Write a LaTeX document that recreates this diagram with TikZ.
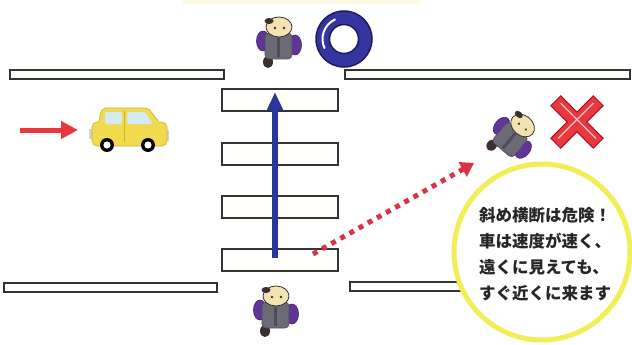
\documentclass[tikz,border=0pt]{standalone}
\usepackage{fontspec}
\newfontfamily\jpfont{Noto Sans CJK JP}
\usetikzlibrary{arrows.meta}

\definecolor{edgegray}{HTML}{333333}
\definecolor{barfill}{HTML}{FFFFFC}
\definecolor{paleyellow}{HTML}{FCF9E2}
\definecolor{walkblue}{HTML}{27389A}
\definecolor{warnred}{HTML}{E8383D}
\definecolor{dotred}{HTML}{DC3246}
\definecolor{caryellow}{HTML}{F2DA4E}
\definecolor{caredge}{HTML}{D2B02C}
\definecolor{glass}{HTML}{D4EAF0}
\definecolor{ringblue}{HTML}{3535A2}
\definecolor{ringdark}{HTML}{1C1C5C}
\definecolor{xdark}{HTML}{A8142A}
\definecolor{xpink}{HTML}{F7C4C8}
\definecolor{bubble}{HTML}{F2EE55}
\definecolor{armpurple}{HTML}{62349A}
\definecolor{armdark}{HTML}{40226E}
\definecolor{coat}{HTML}{6C6A76}
\definecolor{coatdark}{HTML}{4E4C56}
\definecolor{skin}{HTML}{F3E3B2}
\definecolor{hair}{HTML}{3A3030}
\definecolor{textdark}{HTML}{262626}

\tikzset{
  roadline/.style={draw=edgegray, fill=barfill, line width=1.3pt},
  stripe/.style={draw=edgegray, fill=barfill, line width=1.3pt},
  walkpath/.style={walkblue, line width=5.5pt, -{Triangle[length=18pt,width=15pt]}},
  carpath/.style={warnred, line width=5pt, -{Triangle[length=17pt,width=17pt]}},
  diagpath/.style={dotred, line width=5pt, dash pattern=on 5pt off 5.5pt,
    -{Triangle[length=13pt,width=16pt]}},
  walker/.pic={
    % feet
    \fill[hair] (-11,20) ellipse[x radius=5pt, y radius=6pt];
    % arms
    \filldraw[fill=armpurple, draw=armdark, line width=0.6pt]
      (-16,-1) ellipse[x radius=6.5pt, y radius=10pt];
    \filldraw[fill=armpurple, draw=armdark, line width=0.6pt]
      (16,3) ellipse[x radius=6.5pt, y radius=10pt];
    % coat seen from above
    \filldraw[fill=coat, draw=coatdark, line width=0.6pt, rounded corners=4pt]
      (-14,-9) rectangle (13,17);
    \fill[coatdark] (-2,-4) rectangle (1,15);
    % head with cap
    \filldraw[fill=skin, draw=hair, line width=0.8pt]
      (0,-15) ellipse[x radius=13pt, y radius=10pt];
    \fill[hair] (-10,-21) ellipse[x radius=4.5pt, y radius=3pt];
    \fill[hair] (-4,-14) circle[radius=1.3pt] (5,-14) circle[radius=1.3pt];
  }
}

\begin{document}
\begin{tikzpicture}[x=1pt, y=-1pt]
\useasboundingbox (0,0) rectangle (632,345);
\fill[white] (0,0) rectangle (632,345);
\fill[paleyellow] (183,0) rectangle (420,4);

% kerb lines of the road
\draw[roadline] (10,70) rectangle (224,79);
\draw[roadline] (345,70) rectangle (630,79);
\draw[roadline] (4,283) rectangle (217,292);
\draw[roadline] (350,282) rectangle (480,291);

% zebra crossing
\foreach \y [count=\i] in {89,143,196,249}
  \draw[stripe] (222,\y) rectangle (338,\y+22) node[pos=0.5] (stripe\i) {};

% speech bubble
\filldraw[fill=white, draw=bubble, line width=5pt] (542,252) circle[radius=88pt];
\node[text=textdark, align=left, font=\jpfont\bfseries\fontsize{16.5}{26}\selectfont]
  (msg) at (545,254)
  {斜め横断は危険！\\車は速度が速く、\\遠くに見えても、\\すぐ近くに来ます};

% walking routes
\coordinate (walkStart) at (275,258);
\coordinate (walkEnd) at (275,92);
\draw[walkpath] (walkStart) -- (walkEnd);
\coordinate (diagStart) at (313,254);
\coordinate (diagEnd) at (474,163);
\draw[diagpath] (diagStart) -- (diagEnd);

% car and its direction
\coordinate (carTail) at (20,130);
\coordinate (carHead) at (78,130);
\draw[carpath] (carTail) -- (carHead);

\begin{scope}
  \fill[gray!35] (89,129) rectangle (94,139);
  \fill[gray!35] (164,130) rectangle (169,141);
  \filldraw[fill=caryellow, draw=caredge, line width=0.6pt, rounded corners=2pt]
    (98,125) -- (101,111) -- (104,108) -- (148,108) -- (160,123) -- cycle;
  \filldraw[fill=caryellow, draw=caredge, line width=0.6pt, rounded corners=5pt]
    (92,122) rectangle (167,146);
  \fill[caryellow] (99,121) rectangle (159,126);
  \fill[glass, rounded corners=1.5pt] (105,112) rectangle (122,124);
  \fill[glass, rounded corners=1.5pt] (127,112) -- (145,112) -- (153,124) -- (127,124) -- cycle;
  \draw[caredge, line width=0.6pt] (124.5,111) -- (124.5,142);
  \foreach \cx in {107,148} {
    \fill[black] (\cx,145) circle[radius=7pt];
    \fill[white] (\cx,145) circle[radius=3.6pt];
  }
\end{scope}

% pedestrians
\pic at (279,42) {walker};
\pic at (276,311) {walker};
\pic[rotate=-40] at (513,137) {walker};

% correct mark
\coordinate (okMark) at (344,39);
\filldraw[fill=ringblue, draw=ringdark, line width=1.5pt, even odd rule]
  (okMark) circle[radius=28pt] (okMark) circle[radius=14.5pt];
\draw[white, line width=2pt, line cap=round]
  ([shift={(115:21.5pt)}]okMark) arc[start angle=115, end angle=205, radius=21.5pt];

% wrong mark
\begin{scope}[shift={(577,122)}]
  \foreach \a in {45,-45}
    \fill[xdark, rotate=\a] (-30.5pt,-7.5pt) rectangle (30.5pt,7.5pt);
  \foreach \a in {45,-45}
    \fill[warnred, rotate=\a] (-29.5pt,-6.3pt) rectangle (29.5pt,6.3pt);
  \foreach \a in {45,-45}
    \draw[xpink, line width=1.2pt, rotate=\a] (-25pt,1.8pt) -- (25pt,1.8pt);
\end{scope}
\end{tikzpicture}
\end{document}
